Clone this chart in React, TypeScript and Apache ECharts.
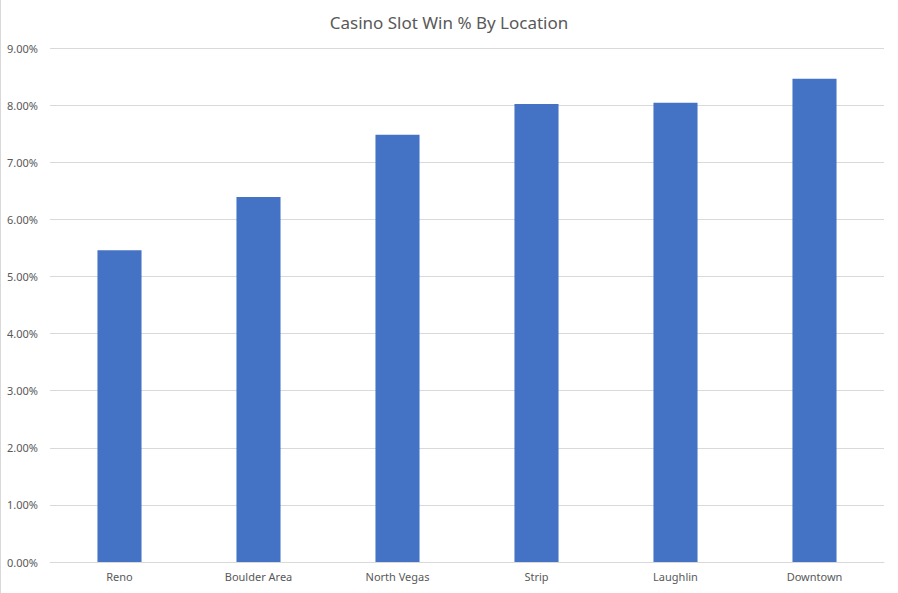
import { useEffect, useRef } from "react";
import * as echarts from "echarts";

const categories = ["Reno", "Boulder Area", "North Vegas", "Strip", "Laughlin", "Downtown"];
const winPct = [0.0546, 0.0639, 0.0748, 0.0802, 0.0804, 0.0846];

const FONT = "'Noto Sans', 'Liberation Sans', sans-serif";

export default function App(): JSX.Element {
  const rootRef = useRef<HTMLDivElement | null>(null);

  useEffect(() => {
    if (!rootRef.current) return undefined;
    const chart = echarts.init(rootRef.current, undefined, { renderer: "svg" });

    const option: echarts.EChartsOption = {
      animation: false,
      backgroundColor: "#ffffff",
      title: {
        text: "Casino Slot Win % By Location",
        left: "center",
        top: 9,
        textStyle: {
          fontFamily: FONT,
          fontSize: 17,
          fontWeight: "normal",
          color: "#595959"
        }
      },
      grid: { top: 48, left: 50, right: 14, bottom: 31 },
      xAxis: {
        type: "category",
        data: categories,
        axisLine: { lineStyle: { color: "#d9d9d9" } },
        axisTick: { show: false },
        axisLabel: {
          fontFamily: FONT,
          fontSize: 11,
          color: "#595959",
          margin: 9,
          interval: 0
        }
      },
      yAxis: {
        type: "value",
        min: 0,
        max: 0.09,
        interval: 0.01,
        axisLine: { show: false },
        axisTick: { show: false },
        splitLine: { lineStyle: { color: "#d9d9d9" } },
        axisLabel: {
          fontFamily: FONT,
          fontSize: 11,
          color: "#595959",
          margin: 12,
          formatter: (v: number) => (v * 100).toFixed(2) + "%"
        }
      },
      series: [
        {
          type: "bar",
          data: winPct,
          barWidth: "31.7%",
          itemStyle: { color: "#4472c4" }
        }
      ],
      graphic: [
        {
          type: "line",
          shape: { x1: 0.5, y1: 0, x2: 0.5, y2: 593 },
          style: { stroke: "#d9d9d9", lineWidth: 1 }
        }
      ]
    };

    chart.setOption(option);
    return () => chart.dispose();
  }, []);

  return (
    <div
      ref={rootRef}
      style={{ position: "absolute", left: 0, top: 0, width: 898, height: 593 }}
    />
  );
}
